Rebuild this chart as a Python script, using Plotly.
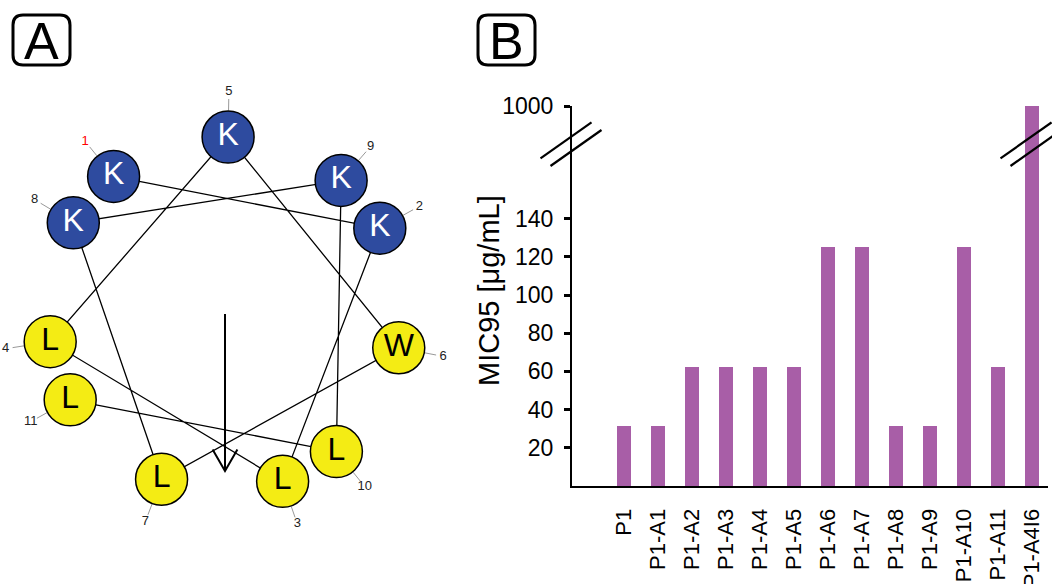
import math
import plotly.graph_objects as go

# ---------------- data ----------------
# Panel A: helical wheel
sequence = ["K", "K", "L", "L", "K", "W", "L", "K", "K", "L", "L"]
residue_numbers = list(range(1, 12))
polar_residues = ["K"]
start_angle_deg = 129.0      # angle of residue 1
step_deg = 100.0             # alpha-helix: 100 degrees per residue
moment_angle_deg = -90.0     # hydrophobic moment direction
moment_length = 0.887

# Panel B: MIC95 bar chart
peptides = ["P1", "P1-A1", "P1-A2", "P1-A3", "P1-A4", "P1-A5", "P1-A6",
            "P1-A7", "P1-A8", "P1-A9", "P1-A10", "P1-A11", "P1-A4I6"]
mic95 = [31.25, 31.25, 62.5, 62.5, 62.5, 62.5, 125, 125, 31.25, 31.25, 125, 62.5, 1000]
lower_ticks = [20, 40, 60, 80, 100, 120, 140]
upper_ticks = [1000]

# ---------------- styling ----------------
W, H = 1052, 584
FONT = "Liberation Sans, Arial, sans-serif"
BLUE = "#2e4b9f"
YELLOW = "#f4ec14"
PURPLE = "#a85ea7"


def px(x, y):
    return x / W, 1 - y / H


fig = go.Figure()

# ---------- Panel A: helical wheel ----------
angles = [math.radians(start_angle_deg - step_deg * (n - 1)) for n in residue_numbers]
xs = [math.cos(a) for a in angles]
ys = [math.sin(a) for a in angles]

fig.add_trace(go.Scatter(x=xs, y=ys, mode="lines", line=dict(color="black", width=1.3),
                         xaxis="x5", yaxis="y5", hoverinfo="skip", showlegend=False))
for a in angles:
    fig.add_trace(go.Scatter(x=[1.15 * math.cos(a), 1.215 * math.cos(a)],
                             y=[1.15 * math.sin(a), 1.215 * math.sin(a)],
                             mode="lines", line=dict(color="#999999", width=1),
                             xaxis="x5", yaxis="y5", hoverinfo="skip", showlegend=False))
ma = math.radians(moment_angle_deg)
tipx, tipy = moment_length * math.cos(ma), moment_length * math.sin(ma)
fig.add_trace(go.Scatter(x=[0, tipx], y=[0, tipy], mode="lines",
                         line=dict(color="black", width=2),
                         xaxis="x5", yaxis="y5", hoverinfo="skip", showlegend=False))
head_len, head_half = 0.14, math.radians(30)
hx = [tipx + head_len * math.cos(ma + math.pi - head_half), tipx,
      tipx + head_len * math.cos(ma + math.pi + head_half)]
hy = [tipy + head_len * math.sin(ma + math.pi - head_half), tipy,
      tipy + head_len * math.sin(ma + math.pi + head_half)]
fig.add_trace(go.Scatter(x=hx, y=hy, mode="lines", line=dict(color="black", width=2),
                         xaxis="x5", yaxis="y5", hoverinfo="skip", showlegend=False))

colors = [BLUE if r in polar_residues else YELLOW for r in sequence]
text_colors = ["white" if r in polar_residues else "black" for r in sequence]
fig.add_trace(go.Scatter(x=xs, y=ys, mode="markers+text", text=sequence,
                         textposition="middle center",
                         textfont=dict(family=FONT, size=32, color=text_colors),
                         marker=dict(size=52, color=colors, line=dict(color="black", width=1.5)),
                         xaxis="x5", yaxis="y5", hoverinfo="skip", showlegend=False))
lab_r = 1.255
fig.add_trace(go.Scatter(x=[lab_r * math.cos(a) for a in angles],
                         y=[lab_r * math.sin(a) for a in angles],
                         mode="text", text=[str(n) for n in residue_numbers],
                         textposition="middle center",
                         textfont=dict(family=FONT, size=13,
                                       color=["red" if n == 1 else "#222222" for n in residue_numbers]),
                         xaxis="x5", yaxis="y5", hoverinfo="skip", showlegend=False))

scale = 177.0
cx, cy = 225.0, 314.0
a_right = 470.0
fig.update_layout(
    xaxis5=dict(domain=[0, a_right / W], range=[-cx / scale, (a_right - cx) / scale],
                visible=False, anchor="y5", automargin=False),
    yaxis5=dict(domain=[0, 1], range=[-(H - cy) / scale, cy / scale], visible=False,
                anchor="x5", automargin=False),
)

# ---------- Panel B: bar chart with broken axis ----------
ax_left, ax_right = 572.0, 1048.0
y_zero, y_break, y_top = 486.0, 144.0, 106.0
px_per_unit = 38.2 / 20.0
lower_max = (y_zero - y_break) / px_per_unit
bar_spacing = 34.0
first_center = 624.0
x_lo = (ax_left - first_center) / bar_spacing
x_hi = (ax_right - first_center) / bar_spacing

fig.add_trace(go.Bar(x=list(range(len(peptides))), y=mic95, width=0.41,
                     marker=dict(color=PURPLE, line=dict(width=0)),
                     xaxis="x", yaxis="y", showlegend=False, hoverinfo="skip"))
fig.add_trace(go.Bar(x=list(range(len(peptides))), y=mic95, width=0.41,
                     marker=dict(color=PURPLE, line=dict(width=0)),
                     xaxis="x2", yaxis="y2", showlegend=False, hoverinfo="skip"))

xd = [ax_left / W, ax_right / W]
yd_low = [1 - y_zero / H, 1 - y_break / H]
yd_up = [1 - y_break / H, 1 - y_top / H]
xtickfont = dict(family=FONT, size=22, color="black")
ytickfont = dict(family=FONT, size=23, color="black")

fig.update_layout(
    xaxis=dict(domain=xd, range=[x_lo, x_hi], anchor="y", tickmode="array",
               tickvals=list(range(len(peptides))), ticktext=peptides, tickangle=-90,
               tickfont=xtickfont, showline=True, linecolor="black", linewidth=2,
               ticks="", showgrid=False, zeroline=False, ticklabelstandoff=12,
               automargin=False),
    yaxis=dict(domain=yd_low, range=[0, lower_max], anchor="x", tickmode="array",
               tickvals=lower_ticks, tickfont=ytickfont, showline=True, linecolor="black",
               linewidth=2, ticks="outside", ticklen=6, tickwidth=2.5, tickcolor="black",
               showgrid=False, zeroline=False, ticklabelstandoff=6, automargin=False),
    yaxis3=dict(overlaying="y", range=[0, lower_max], anchor="x", tickmode="array",
                tickvals=lower_ticks, showticklabels=False, showline=False, ticks="inside",
                ticklen=5, tickwidth=2.5, tickcolor="black", showgrid=False, zeroline=False,
                automargin=False),
    xaxis2=dict(domain=xd, range=[x_lo, x_hi], anchor="y2", visible=False, automargin=False),
    yaxis2=dict(domain=yd_up, range=[900, 1000.01], anchor="x2", tickmode="array",
                tickvals=upper_ticks, tickfont=ytickfont, showline=True, linecolor="black",
                linewidth=2, ticks="outside", ticklen=6, tickwidth=2.5, tickcolor="black",
                showgrid=False, zeroline=False, ticklabelstandoff=6, automargin=False),
    yaxis4=dict(overlaying="y2", range=[900, 1000.01], anchor="x2", tickmode="array",
                tickvals=upper_ticks, showticklabels=False, showline=False, ticks="inside",
                ticklen=5, tickwidth=2.5, tickcolor="black", showgrid=False, zeroline=False,
                automargin=False),
)

shapes = []
tall_center = first_center + bar_spacing * (len(peptides) - 1)
for bx in [ax_left, tall_center]:
    for off in [(-6, -3.6), (4, 4)]:
        cxm, cym = bx + off[0], y_break + off[1]
        x0, y0 = px(cxm - 25.5, cym + 18)
        x1, y1 = px(cxm + 25.5, cym - 18)
        shapes.append(dict(type="line", xref="paper", yref="paper", x0=x0, y0=y0, x1=x1, y1=y1,
                           line=dict(color="black", width=2.2)))


def rounded_box(x0, y0, x1, y1, r):
    def p(x, y):
        a, b = px(x, y)
        return f"{a:.5f},{b:.5f}"
    d = (f"M {p(x0 + r, y0)} L {p(x1 - r, y0)} Q {p(x1, y0)} {p(x1, y0 + r)} "
         f"L {p(x1, y1 - r)} Q {p(x1, y1)} {p(x1 - r, y1)} L {p(x0 + r, y1)} "
         f"Q {p(x0, y1)} {p(x0, y1 - r)} L {p(x0, y0 + r)} Q {p(x0, y0)} {p(x0 + r, y0)} Z")
    return dict(type="path", xref="paper", yref="paper", path=d,
                line=dict(color="black", width=3))


shapes.append(rounded_box(13, 15, 70, 65, 10))
shapes.append(rounded_box(478, 15, 535, 65, 10))

annotations = []
for letter, (lx, ly) in [("A", (41.5, 40.5)), ("B", (506.5, 40.5))]:
    ax_, ay_ = px(lx, ly)
    annotations.append(dict(x=ax_, y=ay_, xref="paper", yref="paper", text=letter,
                            showarrow=False, xanchor="center", yanchor="middle",
                            font=dict(family="Liberation Sans Narrow, Arial Narrow, Liberation Sans",
                                      size=52, color="black")))
tx, ty = px(489, 291)
annotations.append(dict(x=tx, y=ty, xref="paper", yref="paper", text="MIC95 [μg/mL]",
                        showarrow=False, textangle=-90, xanchor="center", yanchor="middle",
                        font=dict(family=FONT, size=29, color="black")))

fig.update_layout(width=W, height=H, margin=dict(l=0, r=0, t=0, b=0, autoexpand=False),
                  paper_bgcolor="white", plot_bgcolor="rgba(0,0,0,0)",
                  shapes=shapes, annotations=annotations, bargap=0, showlegend=False)

fig.write_html("out.html")
